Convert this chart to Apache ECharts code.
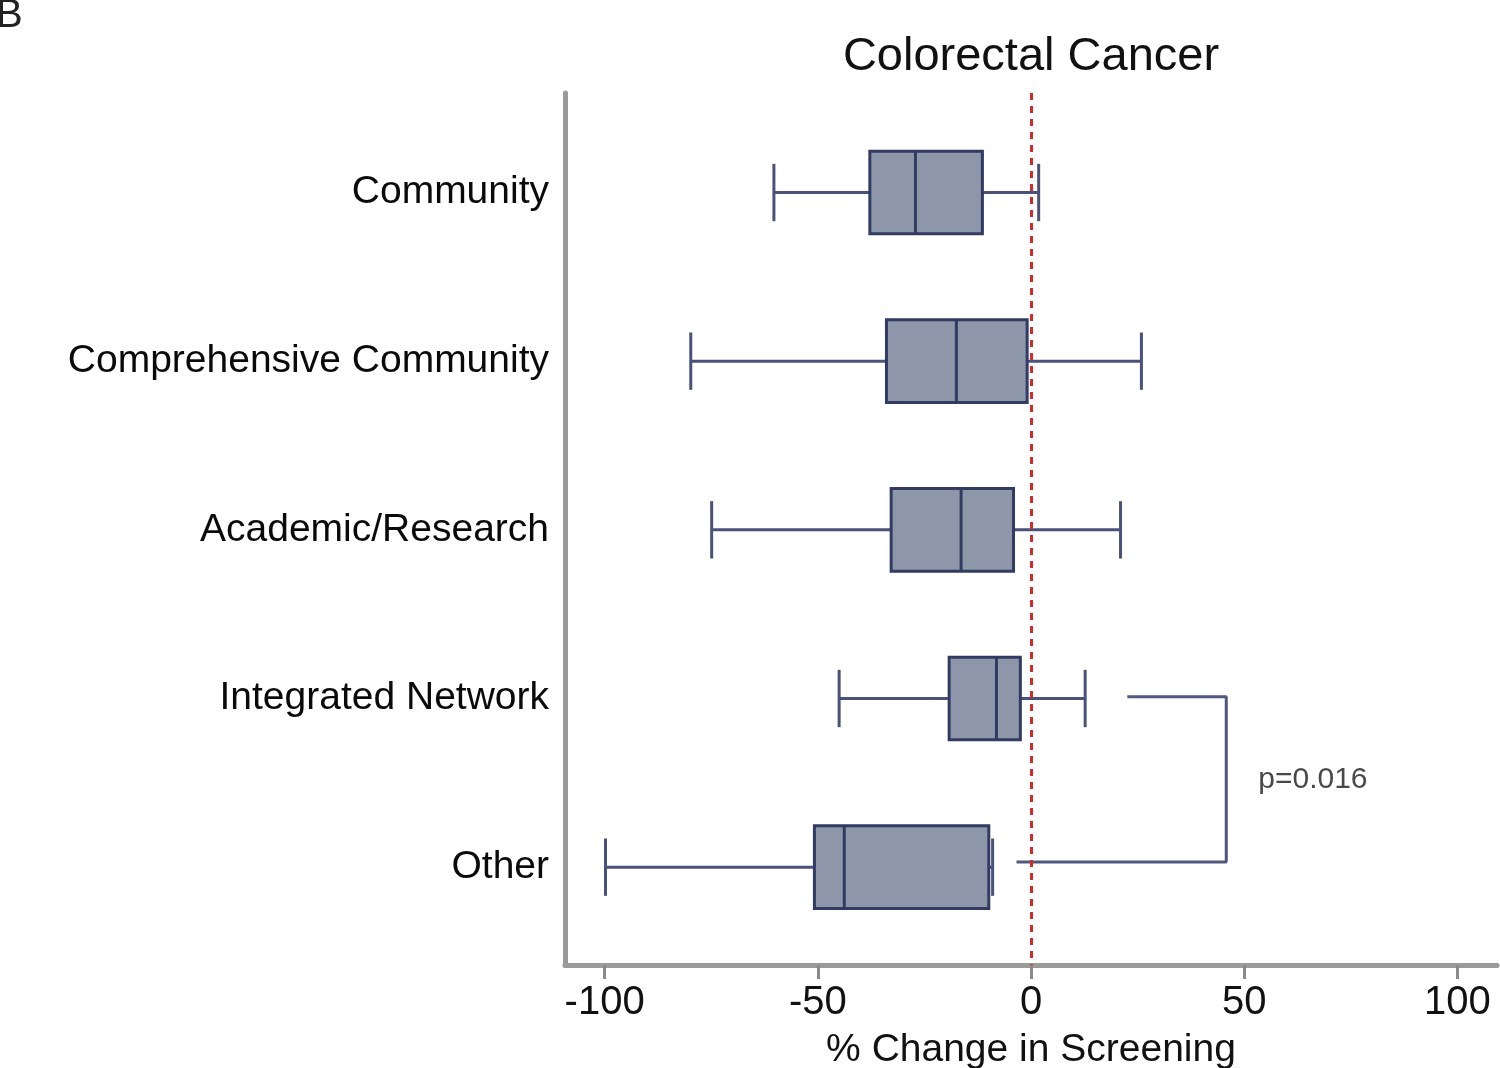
<!DOCTYPE html>
<html>
<head>
<meta charset="utf-8">
<script src="https://cdn.jsdelivr.net/npm/echarts@6/dist/echarts.min.js"></script>
<style>
html,body{margin:0;padding:0;background:#fff;}
#chart{width:1500px;height:1068px;}
</style>
</head>
<body>
<div id="chart"></div>
<script>
// ---- data ----
const categories = ['Community', 'Comprehensive Community', 'Academic/Research', 'Integrated Network', 'Other'];
const whiskerLow = [-60.3, -79.8, -74.9, -45.0, -99.8];
const q1 = [-37.8, -33.9, -32.8, -19.2, -50.8];
const median = [-27.1, -17.5, -16.4, -8.1, -43.8];
const q3 = [-11.4, -0.9, -4.1, -2.5, -9.9];
const whiskerHigh = [1.8, 25.9, 21.0, 12.7, -9.0];
const xTicks = [-100, -50, 0, 50, 100];
const bracket = [[22.6, 3.99], [45.8, 3.99], [45.8, 4.97], [-3.4, 4.97]];
const pLabel = 'p=0.016';
const pLabelPos = [53.3, 4.48];
const title = 'Colorectal Cancer';
const xTitle = '% Change in Screening';
const panelLetter = 'B';

const boxData = categories.map((c, i) => [i + 1, whiskerLow[i], q1[i], median[i], q3[i], whiskerHigh[i]]);

const chart = echarts.init(document.getElementById('chart'), null, { renderer: 'canvas' });
const FONT = '"Liberation Sans", Arial, Helvetica, sans-serif';
const BOX_FILL = '#8e96aa';
const BOX_EDGE = '#323b62';
const WHISK = '#4a5279';

function renderBox(params, api) {
  const pos = api.value(0);
  const lo = api.coord([api.value(1), pos]);
  const a = api.coord([api.value(2), pos]);
  const m = api.coord([api.value(3), pos]);
  const b = api.coord([api.value(4), pos]);
  const hi = api.coord([api.value(5), pos]);
  const unit = api.size([0, 1])[1];
  const hb = unit * 0.245;
  const hc = unit * 0.17;
  const y = a[1];
  const lineS = { stroke: WHISK, lineWidth: 3 };
  return {
    type: 'group',
    children: [
      { type: 'line', shape: { x1: lo[0], y1: y, x2: a[0], y2: y }, style: lineS },
      { type: 'line', shape: { x1: b[0], y1: y, x2: hi[0], y2: y }, style: lineS },
      { type: 'line', shape: { x1: lo[0], y1: y - hc, x2: lo[0], y2: y + hc }, style: lineS },
      { type: 'line', shape: { x1: hi[0], y1: y - hc, x2: hi[0], y2: y + hc }, style: lineS },
      { type: 'rect', shape: { x: a[0], y: y - hb, width: b[0] - a[0], height: 2 * hb },
        style: { fill: BOX_FILL, stroke: BOX_EDGE, lineWidth: 3 } },
      { type: 'line', shape: { x1: m[0], y1: y - hb, x2: m[0], y2: y + hb }, style: { stroke: BOX_EDGE, lineWidth: 3 } }
    ]
  };
}

const option = {
  animation: false,
  backgroundColor: '#ffffff',
  grid: { left: 565, right: 3, top: 93, bottom: 103, containLabel: false, outerBoundsMode: 'none' },
  xAxis: {
    type: 'value',
    min: -109.3, max: 109.3,
    name: xTitle,
    nameLocation: 'middle',
    nameGap: 66,
    nameTextStyle: { fontFamily: FONT, fontSize: 39, color: '#111' },
    axisLine: { show: true, onZero: false, lineStyle: { color: '#9a9a9a', width: 5 } },
    axisTick: { show: true, inside: false, length: 14, customValues: xTicks, lineStyle: { color: '#8a8a8a', width: 3 } },
    axisLabel: { customValues: xTicks, margin: 18, fontFamily: FONT, fontSize: 40, color: '#111' },
    splitLine: { show: false }
  },
  yAxis: {
    type: 'value',
    inverse: true,
    min: 0.41, max: 5.58,
    axisLine: { show: true, onZero: false, lineStyle: { color: '#9a9a9a', width: 5 } },
    axisTick: { show: false },
    splitLine: { show: false },
    axisLabel: {
      customValues: [1, 2, 3, 4, 5],
      formatter: v => categories[Math.round(v) - 1] || '',
      margin: 16, fontFamily: FONT, fontSize: 39, color: '#0a0a0a'
    }
  },
  graphic: [
    { type: 'text', x: 1031, y: 57, style: { text: title, textAlign: 'center', textVerticalAlign: 'middle', font: '47px ' + FONT, fill: '#111' } },
    { type: 'text', x: -4, y: 36, style: { text: panelLetter, textAlign: 'left', textVerticalAlign: 'bottom', font: '40px ' + FONT, fill: '#222' } }
  ],
  series: [
    {
      type: 'custom',
      renderItem: renderBox,
      data: boxData,
      encode: { x: [1, 2, 3, 4, 5], y: 0 },
      z: 2
    },
    {
      type: 'line',
      data: bracket,
      symbol: 'none',
      lineStyle: { color: '#50587e', width: 3 },
      z: 3,
      markLine: {
        silent: true,
        symbol: 'none',
        label: { show: false },
        lineStyle: { color: '#d42a2a', width: 3, type: [7, 6] },
        data: [{ xAxis: 0 }],
        z: 5
      }
    },
    {
      type: 'scatter',
      data: [pLabelPos],
      symbolSize: 0,
      label: { show: true, position: 'right', distance: 0, formatter: pLabel, fontFamily: FONT, fontSize: 30, color: '#1a1a1a' },
      z: 4
    }
  ]
};
chart.setOption(option);
</script>
</body>
</html>
